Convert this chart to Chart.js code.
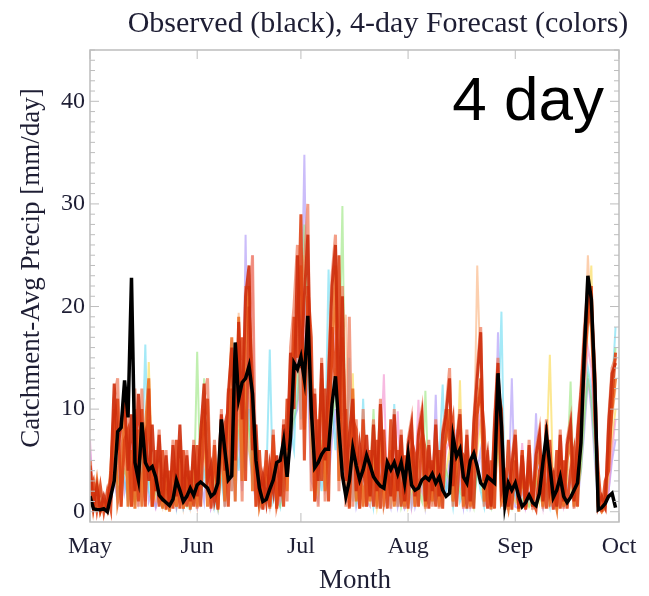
<!DOCTYPE html>
<html>
<head>
<meta charset="utf-8">
<script src="https://cdn.jsdelivr.net/npm/chart.js@4.4.1/dist/chart.umd.min.js"></script>
<style>
  html, body { margin: 0; padding: 0; background: #fff; }
  canvas { display: block; }
</style>
</head>
<body>
<canvas id="precipChart" width="649" height="596"></canvas>
<script>
// day index 0 = 1 May, 153 = 1 Oct
const MONTH_TICKS = [0, 31, 61, 92, 123, 153];
const MONTH_LABELS = ['May', 'Jun', 'Jul', 'Aug', 'Sep', 'Oct'];
const Y_TICKS = [0, 10, 20, 30, 40];

// observed catchment precip, mm/day
const observed = [
  1.5, 0.3, 0.2, 0.2, 0.3, 0.0, 1.5, 3.0, 7.8, 8.2,
  12.8, 9.2, 22.8, 4.8, 3.1, 8.7, 4.8, 4.1, 4.4, 3.4,
  1.6, 1.2, 0.9, 0.6, 1.2, 3.1, 2.1, 1.0, 1.5, 2.3,
  1.6, 2.6, 2.9, 2.6, 2.3, 1.5, 1.8, 2.8, 9.0, 6.0,
  3.1, 3.5, 16.5, 11.0, 12.6, 13.0, 14.2, 11.5, 5.0, 2.3,
  1.0, 1.2, 2.2, 3.1, 4.8, 5.0, 6.9, 3.4, 7.3, 14.5,
  13.9, 15.1, 12.9, 19.1, 10.0, 4.3, 4.8, 5.6, 6.1, 6.1,
  10.5, 13.2, 8.0, 3.5, 1.5, 3.0, 6.2, 4.5, 3.1, 4.1,
  5.5, 4.5, 3.4, 2.9, 2.5, 2.3, 4.8, 4.1, 4.8, 3.7,
  4.8, 2.8, 5.6, 2.6, 2.1, 2.3, 3.1, 3.4, 3.1, 3.7,
  2.8, 3.4, 2.1, 1.5, 1.8, 7.3, 5.4, 6.1, 3.4, 2.8,
  5.0, 5.7, 4.4, 2.8, 2.4, 3.4, 3.1, 2.8, 13.5, 8.4,
  0.7, 2.8, 2.1, 2.8, 1.5, 0.5, 0.9, 1.6, 0.9, 0.6,
  1.8, 4.8, 7.5, 4.5, 1.4, 2.1, 3.4, 1.5, 0.9, 1.4,
  2.1, 2.8, 6.7, 15.8, 23.0, 20.7, 12.5, 0.2, 0.4, 0.8,
  1.5, 1.8, 0.4
];

// 4-day forecast members
const fcDarkRed = [
  4.5, 0.5, 2.5, 0.2, 1.5, 0.3, 3.5, 12.5, 6, 8.5,
  11, 4, 9.5, 2, 11.5, 6, 7.5, 3, 8.5, 2,
  7.5, 1, 5.5, 0.5, 6.5, 1.5, 8.5, 0.8, 5.5, 1,
  6.5, 1.5, 7.5, 12.5, 3, 4.5, 1, 2.5, 9.5, 4,
  11.5, 16, 5, 18.5, 9, 21, 24, 6, 8.5, 1.5,
  3.5, 1, 4.5, 2, 5.5, 1.5, 8.5, 6, 15.5, 10,
  25, 14, 21, 27, 9, 11.5, 3, 14.5, 5, 13,
  22, 26, 9, 21, 3, 7.5, 11, 2, 6.5, 4,
  7.5, 1.5, 8.5, 2, 10.5, 3, 4.5, 1.5, 9.5, 2,
  7.5, 1, 6.5, 8.5, 1.5, 7.5, 9.5, 1, 6.5, 2,
  8.5, 1.5, 7.5, 9.5, 13, 2.5, 6.5, 9.5, 1.5, 7.5,
  1, 8.5, 13, 17.5, 3, 5.5, 0.5, 8.5, 14.5, 2,
  3.5, 0.5, 4.5, 7.5, 0.3, 5.5, 0.5, 6.5, 0.5, 5.5,
  7.5, 1, 8.5, 2, 3.5, 0.5, 7.5, 1, 6.5, 8.5,
  1, 7.5, 11.5, 17, 21.5, 20, 13.5, 0.5, 1.5, 0.5,
  8.5, 13.5, 14.5
];
const fcRed = [
  2, 3, 0.2, 2.5, 0, 2, 0.3, 9, 11, 0.5,
  7, 8, 0.5, 10, 1, 10, 0.5, 12, 0.5, 6,
  0.5, 6, 0.2, 4, 0.3, 7, 0.3, 6, 0.5, 4,
  0.5, 6.5, 0.5, 9, 11, 0.3, 6.5, 0.2, 7, 8.5,
  0.5, 12, 10, 14, 17, 3, 20, 13, 0.5, 6,
  0.2, 6, 0.5, 7.5, 0.3, 5, 0.5, 11, 9, 19,
  15, 29, 5, 22, 17, 1, 9, 3, 12, 1,
  18, 12, 25, 4, 10, 0.3, 9, 8, 0.3, 9,
  0.5, 6, 0.5, 7, 0.3, 8, 0.3, 9, 1, 6,
  0.5, 5.5, 0.3, 7, 5.5, 0.5, 8, 6, 0.3, 5,
  0.5, 6, 0.3, 10, 7, 9, 0.5, 6, 5.5, 0.3,
  5, 0.3, 9.5, 12, 8, 0.3, 5, 0.3, 12, 10,
  0.2, 7, 0.2, 5, 0.5, 6, 0.2, 4.5, 1, 0.2,
  4, 5, 0.3, 7, 0.2, 6, 0.3, 5, 0.3, 4,
  6, 0.5, 9, 14, 19, 22, 9, 4, 0, 3,
  4, 11, 15.5
];
const fcOrange = [
  5, 0.5, 3, 0, 1, 0.2, 4, 10, 1, 3,
  12, 0.5, 6, 0.3, 8, 0.5, 8, 13, 0.5, 4,
  5, 0.3, 4, 0, 5, 0.5, 7, 0.3, 4, 0.2,
  5, 0.5, 6, 10, 0.5, 3, 5, 0.3, 8, 1,
  9, 17, 1, 19, 3, 16, 22, 2, 7, 0.5,
  2, 4, 0.3, 6, 1, 3, 6, 2, 12, 16,
  20, 24, 8, 21, 12, 1, 6, 13, 2, 10,
  15, 24, 3, 17, 8, 0.5, 12, 1, 5, 0.5,
  5, 1, 6, 0.5, 8, 1, 3, 6, 0.5, 4,
  6, 0.5, 5, 6, 0.5, 6, 7, 0.5, 5, 1,
  6, 0.5, 6, 7, 10, 1, 4, 8, 0.5, 6,
  0.5, 6, 10, 13, 1, 4, 0.3, 7, 11, 1,
  2, 0.3, 3, 6, 0, 4, 0.3, 5, 0.5, 4,
  6, 0.5, 7, 1, 2, 0.3, 6, 0.5, 5, 7,
  0.5, 6, 10, 16, 20, 18, 11, 0.5, 0, 0.5,
  6, 10, 13
];
const fcCoral = [
  3, 0.3, 1, 0, 0.5, 0.2, 2, 11, 13, 0.5,
  9, 11, 0.5, 12, 0.5, 12, 1, 9, 0.5, 3,
  8, 0.5, 6, 0.2, 7, 0.5, 5, 0.3, 6, 0.5,
  7, 0.3, 8, 11, 13, 0.5, 7, 0.5, 10, 0.5,
  12, 2, 8, 16, 1, 22, 18, 25, 0.5, 4,
  0.3, 5, 0.5, 8, 0.5, 2, 9, 1, 16, 20,
  26, 8, 24, 30, 2, 12, 0.5, 15, 1, 14,
  23, 27, 2, 22, 0.5, 19, 0.5, 9, 0.3, 10,
  0.5, 3, 9, 0.3, 11, 0.5, 5, 0.3, 10, 0.5,
  8, 0.3, 7, 9, 0.5, 8, 10, 0.3, 7, 0.5,
  9, 0.3, 8, 10, 14, 0.5, 7, 10, 0.3, 8,
  0.3, 9, 14, 18, 0.5, 6, 0.2, 9, 15, 0.5,
  4, 0.2, 5, 8, 0.2, 6, 0.3, 7, 0.2, 6,
  8, 0.3, 9, 0.5, 4, 0.2, 8, 0.3, 7, 9,
  0.3, 8, 12, 18, 22, 21, 14, 0.2, 0.5, 0.2,
  9, 14, 15
];
const fcLavender = [
  6, 0.5, 1, 0.2, 0.5, 0.2, 1, 3, 1, 7,
  2, 4, 1, 5, 1, 3, 7, 1, 2, 0.5,
  2, 0.5, 1, 0.3, 2, 0.5, 3, 0.5, 2, 0.5,
  2, 0.5, 3, 1, 6, 0.5, 2, 0.3, 4, 1,
  3, 6, 1, 8, 2, 27, 6, 3, 1, 0.5,
  0.3, 2, 0.5, 3, 0.5, 2, 2, 4, 6, 9,
  10, 16, 34.8, 12, 3, 2, 1, 5, 2, 3,
  7, 10, 3, 8, 1, 1, 4, 0.5, 2, 3,
  1, 0.5, 3, 1, 4, 0.5, 2, 0.5, 4, 0.5,
  2, 0.3, 1, 3, 0.5, 2, 4, 0.5, 3, 1,
  11.4, 0.5, 3, 2, 5, 1, 8, 3, 0.5, 4,
  0.5, 2, 4, 6, 1, 0.5, 0.3, 3, 17.5, 2,
  0.3, 1, 13, 0.5, 0.3, 2, 0.3, 1, 0.5, 9.6,
  2, 0.5, 3, 1, 0.3, 0.5, 2, 0.5, 1, 3,
  0.5, 1, 4, 8, 13, 10, 5, 0.3, 0.2, 0.3,
  2, 5, 7
];
const fcCyan = [
  1, 0.3, 0.5, 2, 0.2, 0.5, 1, 4, 2, 5,
  3, 1, 5, 1, 2, 4, 16.3, 2, 1, 0.5,
  2, 0.5, 1, 0.5, 3, 0.5, 4, 0.5, 2, 0.3,
  1, 3, 1, 4, 2, 5, 0.5, 2, 3, 0.5,
  6, 2, 7, 4, 9, 4, 10, 3, 2, 0.5,
  1, 3, 15.8, 1, 2, 0.5, 3, 5, 8, 6,
  15, 9, 22, 13, 8, 3, 5, 2, 6, 23.6,
  11, 6, 12, 4, 2, 15, 1, 4, 1, 11,
  2, 4, 0.5, 3, 1, 5, 2, 1, 10.5, 0.5,
  3, 1, 4, 0.5, 2, 1, 3, 2, 1, 4,
  1, 5, 12.4, 2, 3, 0.5, 4, 1, 2, 0.5,
  3, 1, 4, 2, 0.5, 5, 1, 2, 8, 19.5,
  0.5, 3, 1, 2, 0.3, 1, 0.5, 4, 1, 0.5,
  3, 1, 2, 0.5, 4, 0.5, 3, 1, 2, 4,
  1, 3, 6, 10, 14, 12, 7, 0.5, 0.3, 1,
  7, 12, 18
];
const fcYellow = [
  0.5, 1, 0.2, 0.5, 0.5, 0.2, 2, 6, 3, 2,
  7, 2, 4, 1, 5, 2, 4, 14.6, 3, 1,
  1, 2, 0.3, 1, 1, 3, 1, 0.5, 3, 0.5,
  1, 2, 4, 6, 3, 1, 2, 0.5, 5, 3,
  3, 8, 4, 10, 5, 12, 6, 4, 3, 1,
  0.5, 1, 2, 3, 1, 2, 4, 6, 8, 11,
  14, 20, 25, 17, 7, 4, 2, 8, 3, 5,
  10, 14, 7, 11, 2, 3, 13.5, 1, 4, 1,
  3, 1, 4, 0.5, 3, 2, 4, 1, 3, 5,
  1, 4, 0.5, 2, 3, 1, 4, 0.5, 2, 3,
  2, 1, 3, 4, 6, 2, 3, 12.8, 1, 3,
  2, 4, 6, 9, 2, 1, 3, 1, 7, 4,
  1, 0.5, 2, 1, 0.5, 3, 1, 0.5, 2, 4,
  1, 3, 5, 15.3, 2, 0.5, 4, 1, 3, 2,
  3, 1, 5, 11, 18, 24, 9, 1, 0.3, 0.5,
  3, 7, 10
];
const fcGreen = [
  2, 0.5, 0.2, 1, 0.5, 1, 1, 4, 5, 3,
  4, 3, 2, 1, 3, 6, 2, 4, 1, 2,
  1, 0.5, 2, 0.3, 1, 0.5, 3, 1, 0.5, 2,
  1, 15.6, 2, 13, 4, 1, 3, 0.5, 4, 2,
  5, 7, 3, 9, 5, 10, 8, 6, 2, 1,
  0.5, 2, 1, 4, 1, 0.5, 3, 5, 7, 9,
  11, 17, 28, 20, 6, 4, 2, 7, 3, 5,
  9, 11, 12, 29.8, 4, 2, 5, 1, 3, 2,
  1, 3, 10, 1, 2, 4, 1, 3, 2, 4,
  0.5, 2, 3, 1, 4, 2, 1, 11.8, 2, 1,
  3, 2, 1, 4, 3, 1, 4, 2, 1, 3,
  2, 0.5, 4, 3, 1, 2, 0.5, 3, 6, 3,
  1, 2, 0.5, 3, 0.3, 1, 2, 0.5, 1, 3,
  2, 0.5, 3, 1, 0.5, 2, 3, 1, 4, 12.7,
  1, 2, 4, 9, 13, 11, 6, 0.3, 0.2, 1,
  6, 11, 16
];
const fcPink = [
  7, 0.5, 1, 0.2, 1, 0.2, 0.5, 5, 4, 8,
  6, 3, 7, 2, 4, 1, 3, 5, 2, 0.5,
  3, 1, 1, 0.3, 4, 0.5, 2, 0.5, 1, 0.5,
  2, 1, 3, 7, 4, 0.5, 2, 1, 5, 2,
  6, 9, 4, 11, 7, 16, 12, 25, 2, 1,
  0.5, 2, 1, 3, 0.5, 1, 5, 7, 9, 12,
  15, 19, 17, 22, 9, 5, 3, 9, 4, 8,
  14, 18, 10, 13, 3, 6, 4, 2, 3, 1,
  4, 2, 1, 3, 5, 13.4, 1, 2, 3, 9.8,
  2, 1, 4, 0.5, 3, 10.9, 2, 1, 3, 2,
  4, 1, 2, 6, 7, 2, 1, 4, 2, 3,
  1, 3, 7, 10, 2, 0.5, 1, 4, 9, 5,
  0.5, 2, 1, 3, 0.3, 6.7, 0.5, 2, 1, 2,
  3, 0.5, 4, 2, 0.5, 1, 3, 0.5, 2, 4,
  1, 3, 7, 12, 16, 14, 8, 0.3, 0.2, 0.3,
  2, 6, 9
];
const fcPeach = [
  1, 0.5, 1, 0.2, 0.5, 0.2, 1, 7, 3, 4,
  5, 2, 6, 1, 7, 3, 5, 7, 3, 1,
  2, 0.5, 3, 0.5, 2, 0.5, 4, 0.5, 3, 0.5,
  3, 0.5, 4, 9, 6, 1, 4, 0.5, 6, 3,
  8, 12, 5, 19.4, 9, 14, 11, 7, 3, 1,
  1, 3, 0.5, 4, 2, 1, 5, 8, 11, 15,
  19, 23, 18, 22, 12, 6, 5, 10, 6, 10,
  16, 20, 13, 17, 19.2, 4, 7, 3, 4, 2,
  2, 3, 5, 1, 6, 3, 2, 4, 3, 1,
  4, 2, 3, 5, 1, 4, 6, 3, 2, 4,
  3, 2, 5, 7, 10, 3, 4, 7, 2, 5,
  1, 5, 24, 13, 3, 2, 1, 5, 10, 6,
  0.5, 4, 1, 3, 0.5, 2, 1, 4, 0.5, 2,
  4, 1, 5, 3, 1, 2, 4, 1, 3, 5,
  2, 4, 9, 15, 25, 18, 10, 0.3, 0.3, 0.5,
  4, 9, 12
];

const SERIF = '"Liberation Serif", "DejaVu Serif", serif';
const TEXT_COLOR = '#1e1e34';

function toPoints(values) {
  return values.map((v, i) => ({ x: i, y: v }));
}

function member(values, color, width) {
  return {
    data: toPoints(values),
    borderColor: color,
    borderWidth: width,
    pointRadius: 0,
    tension: 0
  };
}

// Chart.js paints dataset 0 last, so the observed line goes first
const datasets = [
  member(observed, '#000000', 3.5),
  member(fcDarkRed, 'rgba(205,45,12,0.9)', 3),
  member(fcRed, 'rgba(222,64,18,0.88)', 3),
  member(fcOrange, 'rgba(236,108,32,0.85)', 3),
  member(fcCoral, 'rgba(238,118,86,0.7)', 3),
  member(fcPink, 'rgba(240,130,200,0.55)', 2),
  member(fcGreen, 'rgba(140,225,110,0.55)', 2),
  member(fcYellow, 'rgba(250,215,70,0.6)', 2),
  member(fcCyan, 'rgba(90,215,240,0.55)', 2),
  member(fcLavender, 'rgba(160,135,245,0.55)', 2),
  member(fcPeach, 'rgba(250,175,120,0.6)', 2)
];

function tickLine(ctx, x1, y1, x2, y2) {
  ctx.beginPath();
  ctx.moveTo(x1, y1);
  ctx.lineTo(x2, y2);
  ctx.stroke();
}

const decorations = {
  id: 'decorations',
  afterDraw(chart) {
    const { ctx, chartArea: a, scales } = chart;
    ctx.save();

    // plot frame and inward ticks
    ctx.strokeStyle = '#bdbdbd';
    ctx.lineWidth = 1.5;
    ctx.strokeRect(a.left, a.top, a.right - a.left, a.bottom - a.top);
    ctx.lineWidth = 1;
    for (let v = 0; v <= 45; v++) {
      const y = scales.y.getPixelForValue(v);
      const len = v % 10 === 0 ? 9 : 5;
      tickLine(ctx, a.left, y, a.left + len, y);
      tickLine(ctx, a.right, y, a.right - len, y);
    }
    MONTH_TICKS.forEach(d => {
      const x = scales.x.getPixelForValue(d);
      tickLine(ctx, x, a.bottom, x, a.bottom - 9);
      tickLine(ctx, x, a.top, x, a.top + 9);
    });

    ctx.fillStyle = TEXT_COLOR;
    ctx.textAlign = 'center';
    ctx.textBaseline = 'alphabetic';

    ctx.font = '30px ' + SERIF;
    ctx.fillText('Observed (black), 4-day Forecast (colors)', 378, 32);

    ctx.font = '27px ' + SERIF;
    ctx.fillText('Month', 355, 588);

    ctx.save();
    ctx.translate(39, 268);
    ctx.rotate(-Math.PI / 2);
    ctx.fillText('Catchment-Avg Precip [mm/day]', 0, 0);
    ctx.restore();

    ctx.fillStyle = '#000';
    ctx.textAlign = 'right';
    ctx.font = '62px "Liberation Sans", Arial, sans-serif';
    ctx.fillText('4 day', 604, 120);

    ctx.restore();
  }
};

const ctx = document.getElementById('precipChart').getContext('2d');

const chart = new Chart(ctx, {
  type: 'line',
  data: { datasets },
  options: {
    responsive: false,
    animation: false,
    layout: { padding: { top: 50, right: 30, bottom: 0, left: 0 } },
    plugins: {
      legend: { display: false },
      tooltip: { enabled: false },
      title: { display: false }
    },
    scales: {
      x: {
        type: 'linear',
        min: 0,
        max: 153,
        grid: { display: false, drawTicks: false },
        border: { display: false },
        afterBuildTicks: s => { s.ticks = MONTH_TICKS.map(v => ({ value: v })); },
        afterFit: s => { s.height = 74; },
        ticks: {
          autoSkip: false,
          maxRotation: 0,
          padding: 10,
          color: TEXT_COLOR,
          font: { family: SERIF, size: 24 },
          callback: v => MONTH_LABELS[MONTH_TICKS.indexOf(v)]
        }
      },
      y: {
        min: -1,
        max: 45,
        grid: { display: false, drawTicks: false },
        border: { display: false },
        afterBuildTicks: s => { s.ticks = Y_TICKS.map(v => ({ value: v })); },
        afterFit: s => { s.width = 90; },
        ticks: {
          padding: 5,
          color: TEXT_COLOR,
          font: { family: SERIF, size: 24 }
        }
      }
    }
  },
  plugins: [decorations]
});
</script>
</body>
</html>
